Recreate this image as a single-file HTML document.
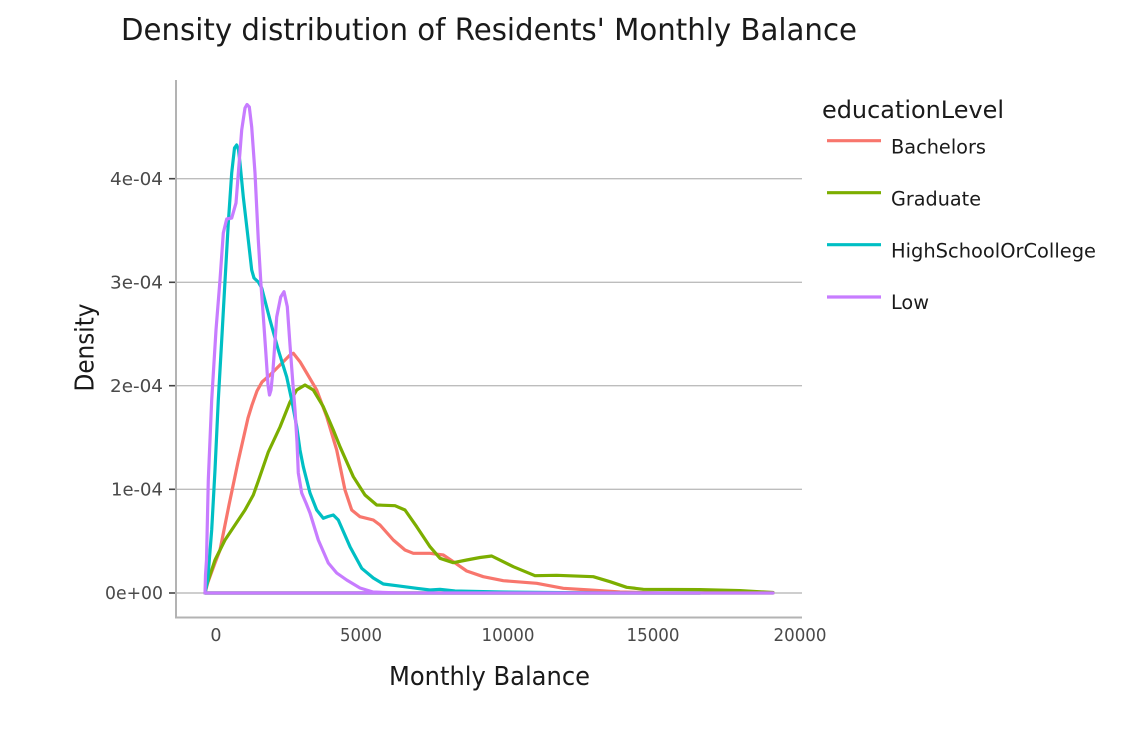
<!DOCTYPE html>
<html>
<head>
<meta charset="utf-8">
<style>
html,body{margin:0;padding:0;background:#fff;}
svg{display:block;}
text{font-family:"DejaVu Sans","Liberation Sans",sans-serif;}
</style>
</head>
<body>
<svg width="1126" height="743" viewBox="0 0 1126 743" xmlns="http://www.w3.org/2000/svg">
<rect width="1126" height="743" fill="#fff"/>
<!-- title -->
<text x="121" y="40" font-size="30" fill="#1a1a1a" textLength="736" lengthAdjust="spacingAndGlyphs">Density distribution of Residents' Monthly Balance</text>

<!-- gridlines -->
<g stroke="#bdbdbd" stroke-width="1.4" fill="none">
<line x1="176" y1="178.7" x2="802" y2="178.7"/>
<line x1="176" y1="282.3" x2="802" y2="282.3"/>
<line x1="176" y1="385.7" x2="802" y2="385.7"/>
<line x1="176" y1="489.3" x2="802" y2="489.3"/>
<line x1="176" y1="593" x2="802" y2="593"/>
</g>
<!-- axes -->
<g stroke="#b3b3b3" stroke-width="2" fill="none">
<line x1="176" y1="80" x2="176" y2="618"/>
<line x1="175" y1="617.5" x2="802" y2="617.5"/>
</g>
<!-- y ticks -->
<g stroke="#444" stroke-width="1.6">
<line x1="169" y1="178.7" x2="175" y2="178.7"/>
<line x1="169" y1="282.3" x2="175" y2="282.3"/>
<line x1="169" y1="385.7" x2="175" y2="385.7"/>
<line x1="169" y1="489.3" x2="175" y2="489.3"/>
<line x1="169" y1="593" x2="175" y2="593"/>
</g>
<g font-size="17.5" fill="#4a4a4a" text-anchor="end">
<text x="163" y="185" textLength="53" lengthAdjust="spacingAndGlyphs">4e-04</text>
<text x="163" y="288.5" textLength="53" lengthAdjust="spacingAndGlyphs">3e-04</text>
<text x="163" y="392" textLength="53" lengthAdjust="spacingAndGlyphs">2e-04</text>
<text x="163" y="495.5" textLength="52" lengthAdjust="spacingAndGlyphs">1e-04</text>
<text x="163" y="599" textLength="58" lengthAdjust="spacingAndGlyphs">0e+00</text>
</g>
<g font-size="17.5" fill="#4a4a4a" text-anchor="middle">
<text x="216" y="641">0</text>
<text x="361" y="641" textLength="42" lengthAdjust="spacingAndGlyphs">5000</text>
<text x="508" y="641" textLength="53" lengthAdjust="spacingAndGlyphs">10000</text>
<text x="653" y="641" textLength="53" lengthAdjust="spacingAndGlyphs">15000</text>
<text x="800" y="641" textLength="53" lengthAdjust="spacingAndGlyphs">20000</text>
</g>
<!-- axis titles -->
<text x="389" y="685" font-size="26" fill="#1a1a1a" textLength="201" lengthAdjust="spacingAndGlyphs">Monthly Balance</text>
<text transform="translate(93.3,347.5) rotate(-90)" x="0" y="0" font-size="26" fill="#1a1a1a" text-anchor="middle" textLength="88" lengthAdjust="spacingAndGlyphs">Density</text>

<!-- series -->
<g fill="none" stroke-width="3.2" stroke-linejoin="round" stroke-linecap="round">
<path stroke="#F8766D" d="M205,593 L208,582 L215,563 L220,550 L229,505 L238,462 L243,440 L248,418 L252,405 L257,391 L262,382 L270,375 L280,365 L290,355 L293.3,353.3 L300,361.7 L306.7,373 L316.7,390 L326.7,416.7 L336.7,450 L345,490 L351.7,510 L360,516.7 L373.3,520 L380,525 L393.3,540 L405,550 L413.3,553.3 L430,553.3 L443.3,555 L453.3,561.7 L466.7,571 L483.3,576.7 L503.3,580.7 L536.7,583.3 L563.3,588.3 L590,590 L620,592 L660,593 L700,593 L205,593 Z"/>
<path stroke="#7CAE00" d="M205,593 L206.7,585 L215,560 L225,540 L235,525 L245,510 L253.3,495 L258.3,481 L268.3,452 L280,427 L290,402 L296.7,390 L305,385 L313.3,390 L323.3,406.7 L333.3,430 L340,446.7 L353.3,476.7 L365,495 L376.7,505 L395,505.7 L405,510 L416.7,526.7 L430,546.7 L440,558.3 L453.3,562.7 L466.7,560 L480,557.5 L491.7,556 L513.3,566.7 L535,575.7 L556.7,575.3 L593.3,576.7 L610,581.7 L626.7,587.3 L643.3,589.3 L700,589.6 L740,590.6 L773,592.5 L773,593 L205,593 Z"/>
<path stroke="#00BFC4" d="M205,593 L207.7,580 L211.7,530 L215,470 L218.3,400 L222,335 L224.5,290 L228.3,223 L231.7,173 L234.5,148 L236.7,145 L238.5,150 L240,163 L243.3,197 L248.3,240 L251.7,270 L254,278 L258.3,282 L261.7,288 L270,320 L278.3,350 L286.7,377 L291.7,400 L296.7,426.7 L300,450 L303.3,466.7 L310,493 L316.7,510 L323.3,518.3 L328,516.5 L333.3,515 L338.3,520 L350,546.7 L361.7,568.3 L373.3,578 L383.3,584 L396.7,585.7 L416.7,588.3 L430,590 L440,589.3 L455,591 L500,592 L600,593 L700,593 L205,593 Z"/>
<path stroke="#C77CFF" d="M205,593 L205.5,575 L206.5,560 L208.3,480 L211.7,400 L216,330 L220,280 L223.3,233 L226.7,219 L231.7,218 L236,203 L241.7,130 L245,108 L247,104.5 L249.3,107 L251.7,127 L255,173 L258.3,240 L261,285 L263,312 L266,355 L268,385 L269.5,395 L271,390 L273,370 L276.7,317 L280.7,297 L284,291.7 L287.3,306.7 L290,345 L293,385 L295,410 L297,442 L298.3,473 L301.7,493 L306,503 L310,513 L318.3,540 L328.3,563 L336.7,573 L346.7,580 L360,588 L373,592 L400,593 L773,593 L205,593 Z"/>
</g>

<!-- legend -->
<text x="822" y="118" font-size="24" fill="#1a1a1a" textLength="182" lengthAdjust="spacingAndGlyphs">educationLevel</text>
<g stroke-width="3.2">
<line x1="827" y1="140.7" x2="881" y2="140.7" stroke="#F8766D"/>
<line x1="827" y1="192.7" x2="881" y2="192.7" stroke="#7CAE00"/>
<line x1="827" y1="244.7" x2="881" y2="244.7" stroke="#00BFC4"/>
<line x1="827" y1="297" x2="881" y2="297" stroke="#C77CFF"/>
</g>
<g font-size="19.5" fill="#1a1a1a">
<text x="891" y="153.3" textLength="95" lengthAdjust="spacingAndGlyphs">Bachelors</text>
<text x="891" y="205.3" textLength="90" lengthAdjust="spacingAndGlyphs">Graduate</text>
<text x="891" y="257.3" textLength="205" lengthAdjust="spacingAndGlyphs">HighSchoolOrCollege</text>
<text x="891" y="309" textLength="38" lengthAdjust="spacingAndGlyphs">Low</text>
</g>
</svg>
</body>
</html>
